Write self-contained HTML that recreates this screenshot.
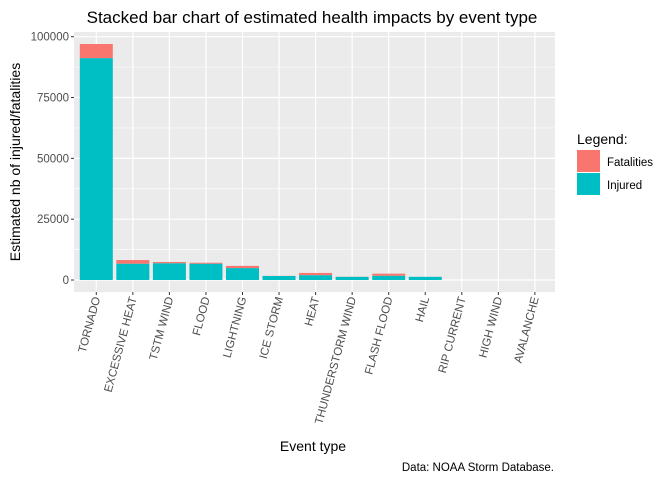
<!DOCTYPE html>
<html><head><meta charset="utf-8"><style>
body{margin:0;background:#fff;font-family:"Liberation Sans",Arial,sans-serif}
</style></head><body>
<svg id="chart" width="672" height="480" xmlns="http://www.w3.org/2000/svg">
<rect width="672" height="480" fill="#fff"/>
<text x="312" y="23" font-size="17" text-anchor="middle" fill="#000">Stacked bar chart of estimated health impacts by event type</text>
<rect x="74" y="32" width="481" height="260" fill="#ebebeb"/>
<g id="grid"></g><g id="bars"></g><g id="axes"></g>
<text transform="translate(20,162) rotate(-90)" font-size="14" text-anchor="middle" fill="#000">Estimated nb of injured/fatalities</text>
<text x="313" y="451" font-size="14" text-anchor="middle" fill="#000">Event type</text>
<text x="554" y="471" font-size="11.5" text-anchor="end" fill="#000">Data: NOAA Storm Database.</text>
<g>
<text x="577" y="144" font-size="14" fill="#000">Legend:</text>
<rect x="577" y="150" width="23" height="22" fill="#f8766d"/>
<text x="607" y="166" font-size="11.5" fill="#000">Fatalities</text>
<rect x="577" y="173" width="23" height="22" fill="#00bfc4"/>
<text x="607" y="189" font-size="11.5" fill="#000">Injured</text>
</g>
</svg>
<script>
const categories=["TORNADO","EXCESSIVE HEAT","TSTM WIND","FLOOD","LIGHTNING","ICE STORM","HEAT","THUNDERSTORM WIND","FLASH FLOOD","HAIL","RIP CURRENT","HIGH WIND","AVALANCHE"];
const injured=[91200,6700,6900,6700,4900,1650,2000,1300,1750,1300,0,0,0];
const fatalities=[5800,1500,500,400,900,50,900,50,850,20,0,0,0];
const yTicks=[0,25000,50000,75000,100000];
const NS="http://www.w3.org/2000/svg";
const y0=280, pxPer=243.3/100000, x0=96.3, step=36.55, bw=33;
const yS=v=>y0-v*pxPer, xS=i=>x0+i*step;
function mk(tag,attrs,parent){const e=document.createElementNS(NS,tag);for(const k in attrs)e.setAttribute(k,attrs[k]);parent.appendChild(e);return e;}
const grid=document.getElementById('grid'),bars=document.getElementById('bars'),axes=document.getElementById('axes');
for(let i=0;i<yTicks.length-1;i++){const v=(yTicks[i]+yTicks[i+1])/2;const g=mk('line',{x1:74,x2:555,y1:yS(v),y2:yS(v),stroke:'#fff','stroke-width':0.6},grid);

}
yTicks.forEach(v=>{const g=mk('line',{x1:74,x2:555,y1:yS(v),y2:yS(v),stroke:'#fff','stroke-width':1.2},grid);


const t=mk('line',{x1:71,x2:74,y1:yS(v),y2:yS(v),stroke:'#333'},axes);


const l=mk('text',{x:69,y:yS(v)+4,'font-size':11.5,'text-anchor':'end',fill:'#4d4d4d'},axes);l.textContent=v;

});
categories.forEach((c,i)=>{const x=xS(i);
const g=mk('line',{x1:x,x2:x,y1:32,y2:292,stroke:'#fff','stroke-width':1.2},grid);


const inj=mk('rect',{x:x-bw/2,y:yS(injured[i]),width:bw,height:injured[i]*pxPer,fill:'#00bfc4'},bars);


const fat=mk('rect',{x:x-bw/2,y:yS(injured[i]+fatalities[i]),width:bw,height:fatalities[i]*pxPer,fill:'#f8766d'},bars);


const t=mk('line',{x1:x,x2:x,y1:292,y2:295,stroke:'#333'},axes);


const l=mk('text',{transform:`translate(${x+4},298) rotate(-75)`,'font-size':11.5,'text-anchor':'end',fill:'#4d4d4d'},axes);l.textContent=c;

});
</script>
</body></html>
